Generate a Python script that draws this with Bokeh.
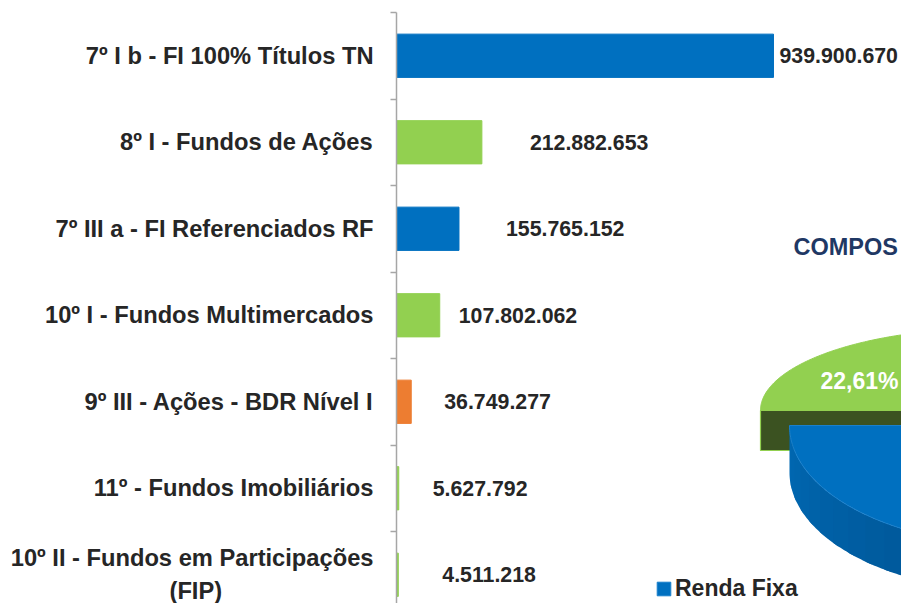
import numpy as np
from bokeh.plotting import figure
from bokeh.models import Range1d, FixedTicker, ColumnDataSource, Legend, LegendItem
from bokeh.core.properties import value
from bokeh.embed import file_html
from bokeh.resources import INLINE

# ---------------- data ----------------
categories = [
    "7º I b - FI 100% Títulos TN",
    "8º I - Fundos de Ações",
    "7º III a - FI Referenciados RF",
    "10º I - Fundos Multimercados",
    "9º III - Ações - BDR Nível I",
    "11º - Fundos Imobiliários",
    "10º II - Fundos em Participações\n(FIP)",
]
amounts = [939900670, 212882653, 155765152, 107802062, 36749277, 5627792, 4511218]
segments = ["Renda Fixa", "Renda Variável", "Renda Fixa", "Renda Variável",
            "Exterior", "Renda Variável", "Renda Variável"]
segment_colors = {"Renda Fixa": "#0070C0", "Renda Variável": "#92D050", "Exterior": "#ED7D31"}
pie_title = "COMPOS"  # the title is cut at this point in the original slide

# ---------------- style ----------------
FONT = "Liberation Sans"
TXT = "#262626"
label_dx = [6, 48, 47, 19, 33, 34, 44]  # px offsets of value labels
CAT_SIZE = "23.7px"
NBSP_PAD = 23  # trailing no-break spaces so the 2nd line of a wrapped label sits centred

N = len(categories)
ypos = [N - 1 - i for i in range(N)]

src = ColumnDataSource(dict(
    y=ypos,
    amount=amounts,
    color=[segment_colors[s] for s in segments],
    label=[f"{a:,}".replace(",", ".") for a in amounts],
    dx=label_dx,
))

W, H = 901, 603
LEFT, TOP = 396, 12
PX_PER_UNIT = 86.5
x_end = (W - LEFT) / 0.4011 * 1e6
y_bottom = (N - 0.5) - (H - TOP) / PX_PER_UNIT

p = figure(width=W, height=H,
           x_range=Range1d(0, x_end), y_range=Range1d(y_bottom, N - 0.5),
           output_backend="svg", toolbar_location=None,
           x_axis_location=None, y_axis_location="left",
           min_border_left=LEFT, min_border_right=0, min_border_top=TOP, min_border_bottom=0)
p.outline_line_color = None
p.grid.visible = False
p.background_fill_color = "white"

# pie coordinate system in picture pixels
p.extra_x_ranges = {"pie_x": Range1d(LEFT, W)}
p.extra_y_ranges = {"pie_y": Range1d(H, TOP)}
PX = dict(x_range_name="pie_x", y_range_name="pie_y")


def centre_lines(c):
    lines = c.split("\n")
    if len(lines) == 1:
        return c
    return "\n".join([lines[0]] + [ln + "\u00a0" * NBSP_PAD for ln in lines[1:]])


ax = p.yaxis[0]
ax.ticker = FixedTicker(ticks=ypos, minor_ticks=[k + 0.5 for k in range(-1, N)])
ax.major_label_overrides = {yv: centre_lines(c) for yv, c in zip(ypos, categories)}
ax.axis_line_color = "#A6A6A6"
ax.axis_line_width = 1.5
ax.major_tick_in = 0
ax.major_tick_out = 0
ax.minor_tick_in = 0
ax.minor_tick_out = 6
ax.minor_tick_line_color = "#A6A6A6"
ax.minor_tick_line_width = 1.5
ax.major_label_standoff = 17
ax.major_label_text_font = FONT
ax.major_label_text_font_style = "bold"
ax.major_label_text_font_size = CAT_SIZE
ax.major_label_text_line_height = 1.25
ax.major_label_text_color = TXT

p.hbar(y="y", left=0, right="amount", height=0.5, color="color", source=src)
p.text(x="amount", y="y", text="label", x_offset="dx", source=src,
       text_align="left", text_baseline="middle",
       text_font=value(FONT), text_font_style="bold", text_font_size="21.3px", text_color=TXT)

# ---------------- pie (cropped, 3D look) ----------------
totals = {}
for s, a in zip(segments, amounts):
    totals[s] = totals.get(s, 0) + a
grand = sum(totals.values())
share = {k: v / grand for k, v in totals.items()}

RX = 230
G_CX, G_CY, G_RY, G_DEPTH = 990, 410, 82, 40
B_CX, B_CY, B_RY, B_DEPTH = 1019, 425, 120, 47

g_end = 180.0
g_start = g_end - share["Renda Variável"] * 360
o_end = g_start
o_start = o_end - share["Exterior"] * 360
b_end = o_start
b_start = b_end - share["Renda Fixa"] * 360


def arc(cx, cy, ry, t0, t1, n=120):
    t = np.radians(np.linspace(t0, t1, n))
    return cx + RX * np.cos(t), cy - ry * np.sin(t)


# green top face
gx, gy = arc(G_CX, G_CY, G_RY, g_start, g_end)
p.patch(np.r_[G_CX, gx], np.r_[G_CY, gy], fill_color="#92D050", line_color="#92D050", **PX)
# orange top face
ox, oy = arc(G_CX, G_CY, G_RY, o_start, o_end)
p.patch(np.r_[G_CX, ox], np.r_[G_CY, oy], fill_color="#ED7D31", line_color="#ED7D31", **PX)
# green radial wall
p.patch([G_CX - RX, G_CX, G_CX, G_CX - RX],
        [G_CY, G_CY, G_CY + G_DEPTH, G_CY + G_DEPTH],
        fill_color="#3B5221", line_color="#92D050", line_width=1.2, **PX)

# blue side wall (gradient bands, overlapping to avoid seams)
bands = 30
edges = np.linspace(-180, 0, bands + 1)
c0 = np.array([0x00, 0x68, 0xB2])
c1 = np.array([0x00, 0x4C, 0x86])
for i in range(bands):
    t1 = min(edges[i + 1] + 2.0, 0)
    tx, ty = arc(B_CX, B_CY, B_RY, edges[i], t1, 12)
    f = min(1.0, i / (bands - 1) * 1.5)
    col = "#%02x%02x%02x" % tuple((c0 + (c1 - c0) * f).astype(int))
    p.patch(np.r_[tx, tx[::-1]], np.r_[ty, ty[::-1] + B_DEPTH],
            fill_color=col, line_color=None, **PX)

# blue top face
bx, by = arc(B_CX, B_CY, B_RY, b_start, b_end, 240)
blue_top = p.patch(np.r_[B_CX, bx], np.r_[B_CY, by], fill_color="#0070C0",
                   line_color="#1A80CC", line_width=1, **PX)

# percentage label on green slice
p.text(x=[859], y=[380], text=[f"{share['Renda Variável'] * 100:.2f}%".replace(".", ",")],
       text_align="center", text_baseline="middle", text_font=value(FONT),
       text_font_style="bold", text_font_size="23px", text_color="white", **PX)

# pie title
p.text(x=[793], y=[246], text=[pie_title], text_align="left", text_baseline="middle",
       text_font=value(FONT), text_font_style="bold", text_font_size="23.5px",
       text_color="#1F3864", **PX)

legend = Legend(items=[LegendItem(label="Renda Fixa", renderers=[blue_top])],
                location=(259, 1), orientation="horizontal",
                border_line_color=None, background_fill_alpha=0,
                glyph_width=17, glyph_height=17, label_standoff=3,
                padding=0, margin=0, spacing=0,
                label_text_font=FONT, label_text_font_style="bold",
                label_text_font_size="23px", label_text_color=TXT)
p.add_layout(legend, "center")

open("out.html", "w").write(file_html(p, INLINE))
